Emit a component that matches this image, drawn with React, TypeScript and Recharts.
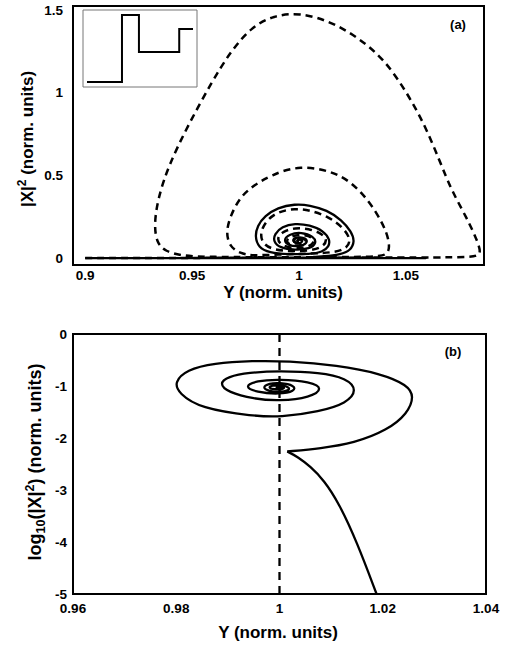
import React from 'react';
import { ComposedChart, LineChart, Line, XAxis, YAxis, ReferenceArea } from 'recharts';

const FONT = '"Liberation Sans", Arial, Helvetica, sans-serif';

// ---------- panel (a) ----------
const TOP_X_TICKS = [0.9, 0.95, 1, 1.05];
const TOP_Y_TICKS = [0, 0.5, 1, 1.5];
const TOP_X_DOMAIN: [number, number] = [0.8943, 1.0865];
const TOP_Y_DOMAIN: [number, number] = [-0.042, 1.524];

const TOP_DASHED: [number, number][] = [
  [0.9, 0.0], [0.95, 0.001], [1.0, 0.002], [1.05, 0.003], [1.078, 0.004],
  [1.0835, 0.012], [1.085, 0.035], [1.0835, 0.1], [1.08, 0.2], [1.076, 0.3],
  [1.071, 0.42], [1.066, 0.58], [1.059, 0.8], [1.0505, 1.0], [1.04, 1.2],
  [1.028, 1.33], [1.015, 1.43], [1.0, 1.485], [0.988, 1.465], [0.978, 1.4],
  [0.968, 1.25], [0.959, 1.06], [0.948, 0.8], [0.939, 0.56], [0.934, 0.36],
  [0.9322, 0.2], [0.9335, 0.09], [0.9375, 0.04], [0.945, 0.015], [0.955, 0.006],
  [1.0, 0.004], [1.037, 0.006], [1.041, 0.022], [1.0425, 0.06], [1.0413, 0.15],
  [1.0366, 0.27], [1.0288, 0.41], [1.018, 0.52], [1.0, 0.563], [0.9867, 0.5],
  [0.9789, 0.44], [0.9724, 0.37], [0.9677, 0.25], [0.9658, 0.15], [0.9677, 0.068],
  [0.9724, 0.028], [0.9784, 0.014], [0.99, 0.022], [1.005, 0.026], [1.017, 0.034],
  [1.0225, 0.06], [1.0243, 0.11], [1.021, 0.18], [1.014, 0.25], [1.005, 0.29],
  [0.998, 0.3], [0.99, 0.28], [0.9845, 0.225], [0.9817, 0.15], [0.983, 0.085],
  [0.988, 0.05], [0.996, 0.04], [1.005, 0.045], [1.011, 0.065], [1.0134, 0.11],
  [1.0105, 0.15], [1.0045, 0.178], [0.998, 0.183], [0.9925, 0.162], [0.9895, 0.12],
  [0.9915, 0.078], [0.997, 0.058], [1.0035, 0.062], [1.0072, 0.09], [1.0065, 0.128],
  [1.001, 0.145], [0.9955, 0.13], [0.9938, 0.1], [0.996, 0.076], [1.001, 0.074],
  [1.004, 0.098], [1.002, 0.123], [0.9978, 0.117], [0.9972, 0.096], [1.0, 0.088],
  [1.002, 0.104], [1.0002, 0.116], [0.9988, 0.106], [1.0, 0.1], [1.0008, 0.108],
];

const TOP_SOLID: [number, number][] = [
  [0.9, 0.0], [1.0, 0.0], [1.076, 0.0], [1.04, 0.0], [1.019, 0.001],
  [1.0025, 0.006], [1.012, 0.01], [1.0195, 0.022], [1.024, 0.045], [1.0261, 0.1],
  [1.0245, 0.16], [1.02, 0.23], [1.013, 0.29], [1.005, 0.32], [0.998, 0.327],
  [0.99, 0.305], [0.984, 0.255], [0.9805, 0.195], [0.9794, 0.13], [0.981, 0.065],
  [0.986, 0.032], [0.995, 0.022], [1.005, 0.024], [1.011, 0.036], [1.014, 0.07],
  [1.0145, 0.11], [1.0115, 0.165], [1.005, 0.2], [0.998, 0.21], [0.992, 0.19],
  [0.9885, 0.145], [0.988, 0.1], [0.991, 0.062], [0.998, 0.048], [1.005, 0.055],
  [1.0082, 0.09], [1.007, 0.13], [1.001, 0.158], [0.9955, 0.145], [0.9926, 0.11],
  [0.995, 0.075], [1.0, 0.068], [1.004, 0.09], [1.0035, 0.12], [0.9995, 0.13],
  [0.9965, 0.11], [0.9985, 0.088], [1.0015, 0.092], [1.0015, 0.112], [1.0, 0.115],
  [0.999, 0.105], [1.0, 0.1],
];

// inset (step profile)
const INSET_T = [0, 3.3, 4.9, 8.7, 10];
const INSET_LEVEL = [0.065, 0.935, 0.455, 0.753, 0.753];
const INSET_X_DOMAIN: [number, number] = [-0.377, 10.377];

// ---------- panel (b) ----------
const BOT_X_TICKS = [0.96, 0.98, 1, 1.02, 1.04];
const BOT_Y_TICKS = [-5, -4, -3, -2, -1, 0];
const BOT_X_DOMAIN: [number, number] = [0.96, 1.04];
const BOT_Y_DOMAIN: [number, number] = [-5, 0];

const BOT_DASHED: [number, number][] = [[1, 0], [1, -5]];

const BOT_RISE: [number, number][] = [
  [1.0188, -5.0], [1.015, -4.0], [1.0115, -3.25], [1.0086, -2.81],
  [1.006, -2.55], [1.0035, -2.36], [1.0015, -2.26],
];

const BOT_SPIRAL: [number, number][] = [
  [1.0015, -2.26], [1.008, -2.2], [1.0144, -2.1], [1.0209, -1.85], [1.0248, -1.53],
  [1.0261, -1.2], [1.0248, -0.98], [1.0196, -0.76], [1.0112, -0.6], [1.0015, -0.52],
  [0.9949, -0.515], [0.9872, -0.56], [0.982, -0.69], [0.9796, -0.93], [0.9805, -1.14],
  [0.9846, -1.43], [0.995, -1.58], [1.0001, -1.6], [1.0078, -1.49], [1.013, -1.33],
  [1.0151, -1.08], [1.013, -0.85], [1.0078, -0.74], [1.0, -0.71], [0.994, -0.74],
  [0.99, -0.82], [0.9883, -0.95], [0.99, -1.12], [0.995, -1.25], [1.0, -1.29],
  [1.006, -1.22], [1.0085, -1.045], [1.006, -0.92], [1.0, -0.87], [0.9955, -0.9],
  [0.9931, -1.01], [0.9955, -1.12], [1.0, -1.16], [1.003, -1.1], [1.003, -0.99],
  [1.0, -0.935], [0.998, -0.95], [0.9966, -1.03], [0.998, -1.1], [1.0, -1.12],
  [1.0018, -1.09], [1.002, -1.03], [1.0005, -0.98], [0.9985, -0.99], [0.9978, -1.03],
  [0.999, -1.07], [1.0008, -1.06], [1.001, -1.02], [0.9998, -1.01], [0.9992, -1.035],
  [1.0002, -1.04],
];

const toXY = (arr: [number, number][]) => arr.map(([x, y]) => ({ x, y }));
const INSET_DATA = INSET_T.map((t, i) => ({ x: t, y: INSET_LEVEL[i] }));

const tickStyle = { fill: '#000', fontSize: 13.5, fontWeight: 'bold' as const, fontFamily: FONT };
const tickLine = { stroke: '#888', strokeWidth: 1 };
const axisLine = { stroke: '#000', strokeWidth: 2 };

const titleStyle: React.CSSProperties = {
  position: 'absolute',
  fontFamily: FONT,
  fontWeight: 'bold',
  fontSize: 17,
  color: '#000',
  textAlign: 'center',
  whiteSpace: 'nowrap',
  height: 18,
  lineHeight: '18px',
};

const supStyle: React.CSSProperties = { fontSize: '0.7em', position: 'relative', top: '-0.55em' };
const subStyle: React.CSSProperties = { fontSize: '0.7em', position: 'relative', top: '0.3em' };

export default function App() {
  return (
    <div style={{ position: 'absolute', left: 0, top: 0, width: 508, height: 645, background: '#fff', fontFamily: FONT }}>
      {/* Panel (a) */}
      <div style={{ position: 'absolute', left: 0, top: 0 }}>
        <ComposedChart width={508} height={300} margin={{ top: 6, right: 24, bottom: 0, left: 0 }}>
          <XAxis
            dataKey="x"
            type="number"
            domain={TOP_X_DOMAIN}
            allowDataOverflow
            ticks={TOP_X_TICKS}
            interval={0}
            height={35}
            tickSize={0}
            tickMargin={5}
            tick={tickStyle}
            tickLine={false}
            axisLine={axisLine}
          />
          <XAxis
            xAxisId="xt"
            type="number"
            domain={TOP_X_DOMAIN}
            allowDataOverflow
            ticks={TOP_X_TICKS}
            interval={0}
            mirror
            tick={false}
            tickSize={7}
            tickLine={tickLine}
            axisLine={false}
          />
          <YAxis
            dataKey="y"
            type="number"
            domain={TOP_Y_DOMAIN}
            allowDataOverflow
            ticks={TOP_Y_TICKS}
            interval={0}
            width={73}
            tickSize={0}
            tickMargin={10}
            tick={tickStyle}
            tickLine={false}
            axisLine={axisLine}
          />
          <YAxis
            yAxisId="yt"
            type="number"
            domain={TOP_Y_DOMAIN}
            allowDataOverflow
            ticks={TOP_Y_TICKS}
            interval={0}
            mirror
            tick={false}
            tickSize={6}
            tickLine={tickLine}
            axisLine={false}
          />
          <ReferenceArea
            x1={TOP_X_DOMAIN[0]}
            x2={TOP_X_DOMAIN[1]}
            y1={TOP_Y_DOMAIN[0]}
            y2={TOP_Y_DOMAIN[1]}
            fill="none"
            fillOpacity={0}
            stroke="#000"
            strokeWidth={2}
            ifOverflow="visible"
          />
          <Line
            data={toXY(TOP_SOLID)}
            dataKey="y"
            type="basis"
            stroke="#000"
            strokeWidth={2.3}
            dot={false}
            activeDot={false}
            isAnimationActive={false}
          />
          <Line
            data={toXY(TOP_DASHED)}
            dataKey="y"
            type="basis"
            stroke="#000"
            strokeWidth={2.5}
            strokeDasharray="7 5"
            dot={false}
            activeDot={false}
            isAnimationActive={false}
          />
        </ComposedChart>
      </div>

      {/* Inset */}
      <div style={{ position: 'absolute', left: 82, top: 9 }}>
        <LineChart width={116} height={79} data={INSET_DATA} margin={{ top: 1, right: 1, bottom: 1, left: 1 }}>
          <XAxis dataKey="x" type="number" domain={INSET_X_DOMAIN} hide />
          <YAxis type="number" domain={[0, 1]} hide />
          <ReferenceArea
            x1={INSET_X_DOMAIN[0]}
            x2={INSET_X_DOMAIN[1]}
            y1={0}
            y2={1}
            fill="none"
            fillOpacity={0}
            stroke="#777"
            strokeWidth={1}
            ifOverflow="visible"
          />
          <Line
            dataKey="y"
            type="stepAfter"
            stroke="#000"
            strokeWidth={2}
            dot={false}
            activeDot={false}
            isAnimationActive={false}
          />
        </LineChart>
      </div>

      {/* Panel (b) */}
      <div style={{ position: 'absolute', left: 0, top: 300 }}>
        <ComposedChart width={508} height={345} margin={{ top: 34, right: 22, bottom: 16, left: 0 }}>
          <XAxis
            dataKey="x"
            type="number"
            domain={BOT_X_DOMAIN}
            allowDataOverflow
            ticks={BOT_X_TICKS}
            interval={0}
            height={35}
            tickSize={0}
            tickMargin={9}
            tick={tickStyle}
            tickLine={false}
            axisLine={axisLine}
          />
          <XAxis
            xAxisId="xt"
            type="number"
            domain={BOT_X_DOMAIN}
            allowDataOverflow
            ticks={BOT_X_TICKS}
            interval={0}
            mirror
            tick={false}
            tickSize={6}
            tickLine={tickLine}
            axisLine={false}
          />
          <YAxis
            dataKey="y"
            type="number"
            domain={BOT_Y_DOMAIN}
            allowDataOverflow
            ticks={BOT_Y_TICKS}
            interval={0}
            width={73}
            tickSize={0}
            tickMargin={6}
            tick={tickStyle}
            tickLine={false}
            axisLine={axisLine}
          />
          <YAxis
            yAxisId="yt"
            type="number"
            domain={BOT_Y_DOMAIN}
            allowDataOverflow
            ticks={BOT_Y_TICKS}
            interval={0}
            mirror
            tick={false}
            tickSize={6}
            tickLine={tickLine}
            axisLine={false}
          />
          <ReferenceArea
            x1={BOT_X_DOMAIN[0]}
            x2={BOT_X_DOMAIN[1]}
            y1={BOT_Y_DOMAIN[0]}
            y2={BOT_Y_DOMAIN[1]}
            fill="none"
            fillOpacity={0}
            stroke="#000"
            strokeWidth={2}
            ifOverflow="visible"
          />
          <Line
            data={toXY(BOT_DASHED)}
            dataKey="y"
            type="linear"
            stroke="#000"
            strokeWidth={2.3}
            strokeDasharray="8 6"
            dot={false}
            activeDot={false}
            isAnimationActive={false}
          />
          <Line
            data={toXY(BOT_RISE)}
            dataKey="y"
            type="basis"
            stroke="#000"
            strokeWidth={2.3}
            dot={false}
            activeDot={false}
            isAnimationActive={false}
          />
          <Line
            data={toXY(BOT_SPIRAL)}
            dataKey="y"
            type="basis"
            stroke="#000"
            strokeWidth={2.3}
            dot={false}
            activeDot={false}
            isAnimationActive={false}
          />
        </ComposedChart>
      </div>

      {/* Panel labels */}
      <div style={{ ...titleStyle, fontSize: 13, left: 438, top: 16, width: 40 }}>(a)</div>
      <div style={{ ...titleStyle, fontSize: 13, left: 433, top: 343, width: 40 }}>(b)</div>

      {/* X titles */}
      <div style={{ ...titleStyle, left: 183, top: 284, width: 200 }}>Y (norm. units)</div>
      <div style={{ ...titleStyle, left: 178, top: 624, width: 200 }}>Y (norm. units)</div>

      {/* Y titles */}
      <div style={{ ...titleStyle, left: 28 - 120, top: 139 - 9, width: 240, transform: 'rotate(-90deg)' }}>
        |X|<span style={supStyle}>2</span> (norm. units)
      </div>
      <div style={{ ...titleStyle, fontSize: 18, left: 35 - 130, top: 462 - 9, width: 260, transform: 'rotate(-90deg)' }}>
        log<span style={subStyle}>10</span>(|X|<span style={supStyle}>2</span>) (norm. units)
      </div>
    </div>
  );
}
